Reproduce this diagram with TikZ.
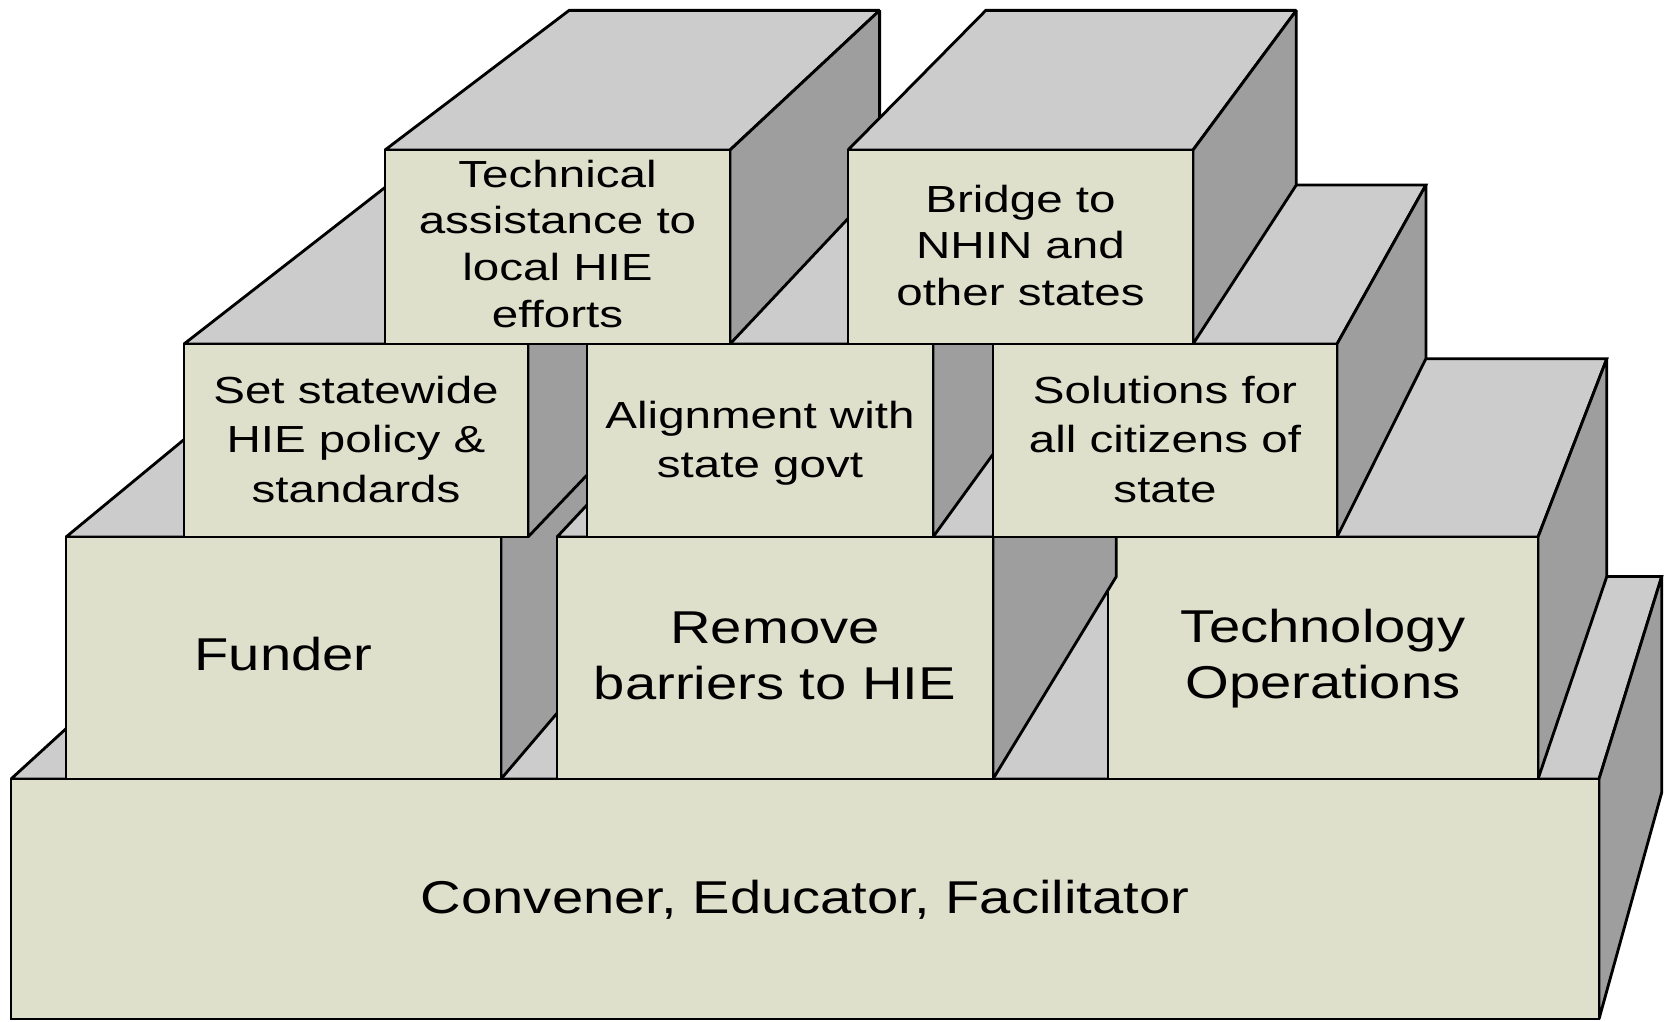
\documentclass[tikz,border=0pt]{standalone}
\usepackage{fontspec}
\newfontfamily\bigf[FakeStretch=1.22]{Liberation Sans}
\newfontfamily\smf[FakeStretch=1.26]{Liberation Sans}
\usetikzlibrary{calc}
\definecolor{frontc}{RGB}{222,224,204}
\definecolor{topc}{RGB}{204,204,204}
\definecolor{sidec}{RGB}{158,158,158}
\newcommand\dep{0.1}
\newcommand\fntOne{\smf\fontsize{32.2pt}{40.1pt}\selectfont}
\newcommand\fntTwo{\smf\fontsize{32.2pt}{42.3pt}\selectfont}
\newcommand\fntBig{\bigf\fontsize{39.3pt}{48.2pt}\selectfont}
% name, left, top, right, bottom
\newcommand\blockcube[5]{%
  \coordinate (#1-fa) at (#2,#3);
  \coordinate (#1-fb) at (#4,#3);
  \coordinate (#1-fc) at (#4,#5);
  \coordinate (#1-fd) at (#2,#5);
  \coordinate (#1-ba) at ($(#1-fa)!\dep!(vp)$);
  \coordinate (#1-bb) at ($(#1-fb)!\dep!(vp)$);
  \coordinate (#1-bc) at ($(#1-fc)!\dep!(vp)$);
  \filldraw[topface] (#1-fa) -- (#1-fb) -- (#1-bb) -- (#1-ba) -- cycle;
  \filldraw[sideface] (#1-fb) -- (#1-bb) -- (#1-bc) -- (#1-fc) -- cycle;
  \filldraw[frontface] (#1-fa) rectangle (#1-fc);
}
\begin{document}
\begin{tikzpicture}[x=0.3mm,y=-0.3mm, line width=0.85mm, line join=miter, miter limit=2,
  topface/.style={fill=topc,draw=black},
  sideface/.style={fill=sidec,draw=black},
  frontface/.style={fill=frontc,draw=black},
  lbl/.style={inner sep=0pt, anchor=base}]
\useasboundingbox (0,0) rectangle (1671,1021);
\coordinate (vp) at (2226,-1246);
% base
\blockcube{base}{11}{779}{1599}{1019}
\node[lbl] (base-t) at (805,913) {\fntBig Convener, Educator, Facilitator};
% row 3
\blockcube{fund}{66}{537}{501}{779}
\node[lbl] (fund-t) at (283.5,670) {\fntBig Funder};
\blockcube{tech3}{1108}{537}{1538}{779}
\node[lbl] (tech3-t) at (1323,642) {\fntBig\begin{tabular}[t]{@{}c@{}}Technology\\Operations\end{tabular}};
\blockcube{remv}{557}{537}{993}{779}
\node[lbl] (remv-t) at (775,643) {\fntBig\begin{tabular}[t]{@{}c@{}}Remove\\barriers to HIE\end{tabular}};
% row 2
\blockcube{setb}{184}{344}{528}{537}
\node[lbl] (setb-t) at (356,403) {\fntTwo\begin{tabular}[t]{@{}c@{}}Set statewide\\HIE policy \&\\standards\end{tabular}};
\blockcube{algn}{587}{344}{933}{537}
\node[lbl] (algn-t) at (760,428) {\fntTwo\begin{tabular}[t]{@{}c@{}}Alignment with\\state govt\end{tabular}};
\blockcube{solu}{993}{344}{1337}{537}
\node[lbl] (solu-t) at (1165,403) {\fntTwo\begin{tabular}[t]{@{}c@{}}Solutions for\\all citizens of\\state\end{tabular}};
% row 1
\blockcube{tass}{385}{150}{730}{344}
\node[lbl] (tass-t) at (557.5,187) {\fntOne\begin{tabular}[t]{@{}c@{}}Technical\\assistance to\\local HIE\\efforts\end{tabular}};
\blockcube{brdg}{848}{150}{1193}{344}
\node[lbl] (brdg-t) at (1020.5,212) {\fntOne\begin{tabular}[t]{@{}c@{}}Bridge to\\NHIN and\\other states\end{tabular}};
\end{tikzpicture}
\end{document}
